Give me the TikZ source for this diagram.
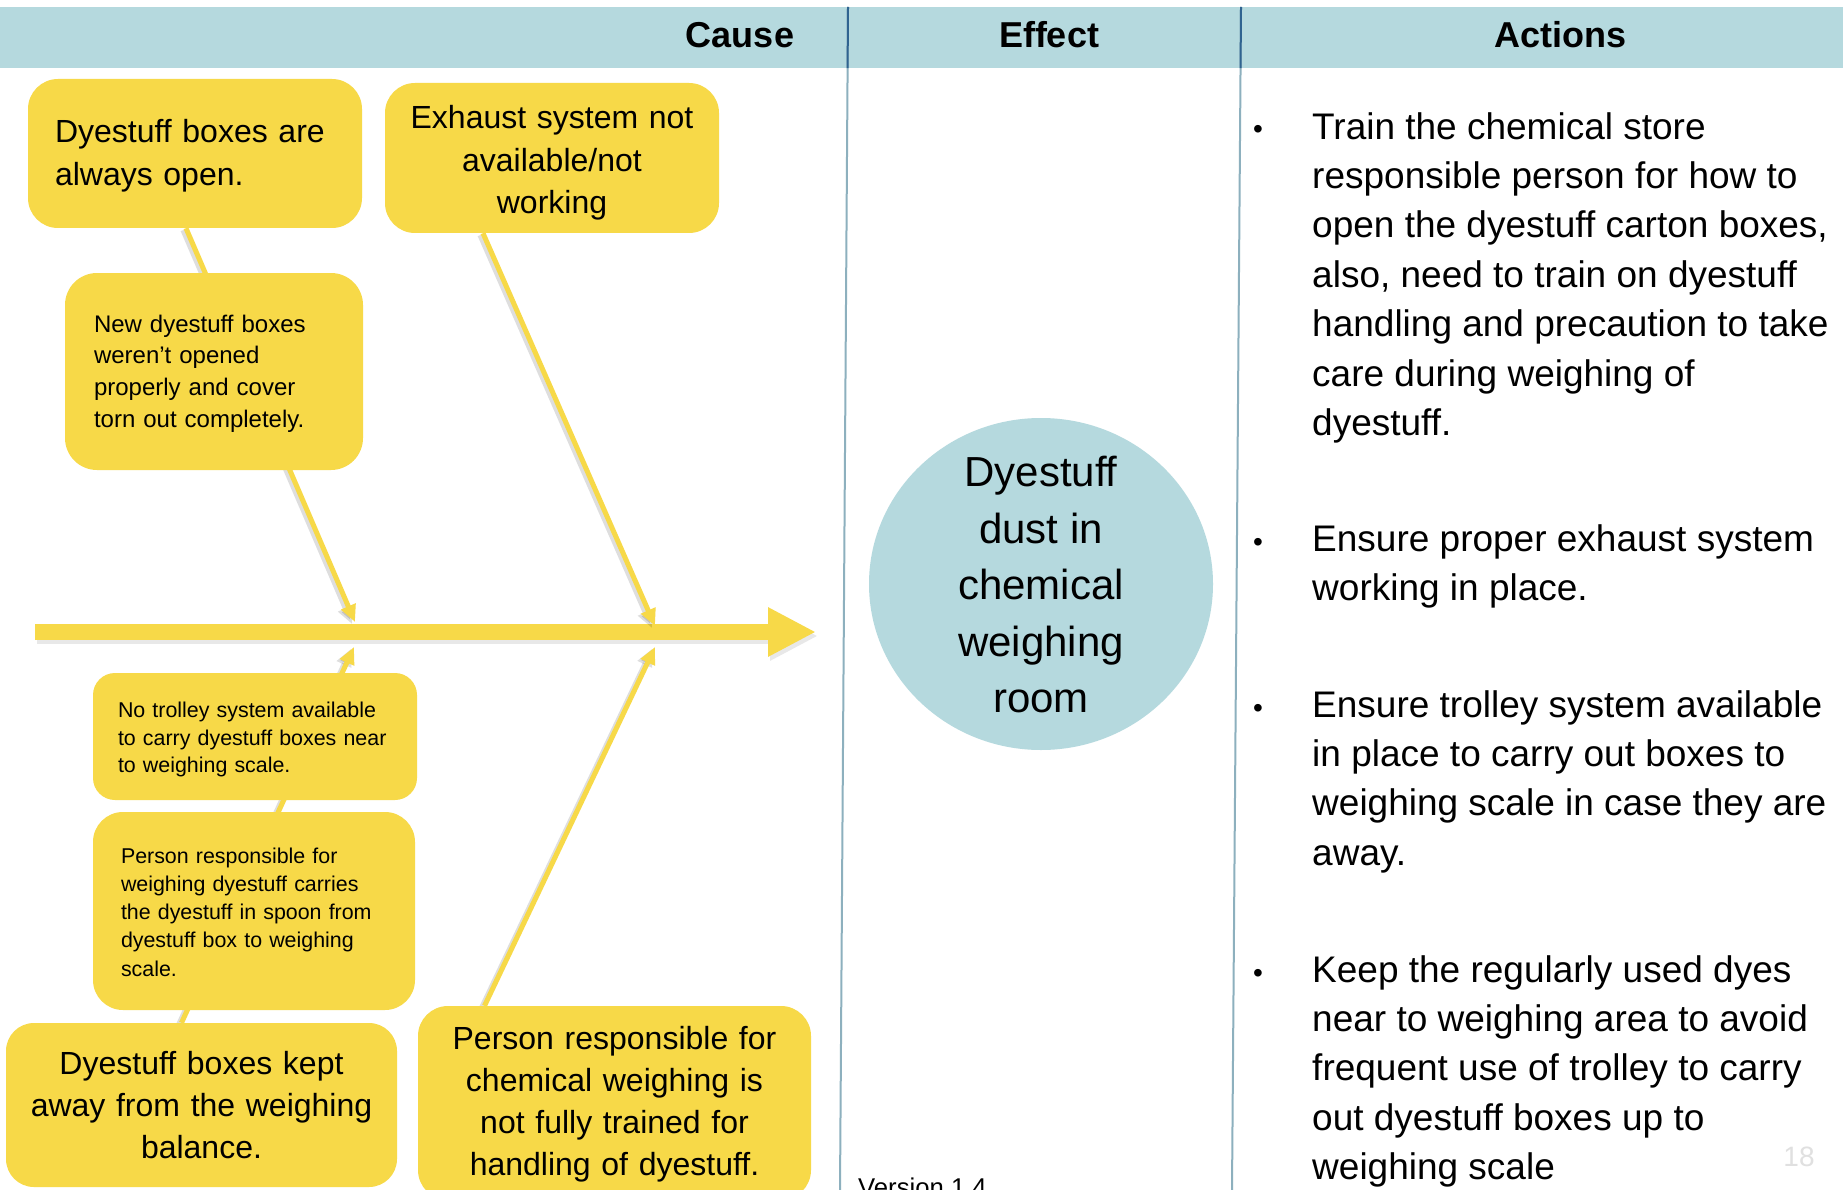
\documentclass[tikz,border=0pt]{standalone}
\usepackage{fontspec}
\setmainfont{Liberation Sans}
\usetikzlibrary{arrows.meta,shapes.geometric,calc}
\definecolor{causeyellow}{HTML}{F7D948}
\definecolor{headblue}{HTML}{B5D9DE}
\definecolor{ruledark}{HTML}{2F6390}
\definecolor{rulelight}{HTML}{8DB0BE}
\newcommand\setsz[2]{\fontsize{#1}{#2}\selectfont}
\pgfdeclarelayer{backdrop}
\pgfdeclarelayer{links}
\pgfsetlayers{backdrop,links,main}
\tikzset{
  causebox/.style={fill=causeyellow, inner sep=0pt, text=black},
  bigcause/.style={causebox, font=\setsz{32}{42.5}},
  smallcause/.style={causebox, align=left},
  % a tall invisible strut on the first line nudges the text block down
  lowertext/.style={execute at begin node={\rule{0pt}{#1}}},
  headtext/.style={font=\bfseries\setsz{36}{43}, inner sep=0pt},
  branch/.style={draw=causeyellow, line width=5pt, -{Triangle[length=17pt,width=15pt]}},
  branchshade/.style={draw=black, opacity=0.13, line width=5pt,
    -{Triangle[length=17pt,width=15pt]}, transform canvas={shift={(-3pt,-2pt)}}},
  spine/.style={draw=causeyellow, line width=16pt, -{Triangle[length=48pt,width=46pt]}},
  spineshade/.style={draw=black, opacity=0.09, line width=16pt,
    -{Triangle[length=48pt,width=46pt]}, transform canvas={shift={(2pt,-4pt)}}},
  effect/.style={ellipse, fill=headblue, inner sep=0pt},
  effecttext/.style={align=center, inner sep=0pt, font=\setsz{42}{56.5}},
  item/.style={font=\setsz{37}{49.4}, align=left, inner sep=0pt, anchor=base west},
  dot/.style={font=\setsz{28}{30}, inner sep=0pt, anchor=base},
}
\begin{document}
\begin{tikzpicture}[x=1pt,y=-1pt]
\clip (0,0) rectangle (1843,1190);

% header band and column rules
\begin{pgfonlayer}{backdrop}
  \fill[white] (0,0) rectangle (1843,1190);
  \fill[headblue] (0,7) rectangle (1843,68);
  \coordinate (r1top) at (848,7);
  \coordinate (r1bot) at (840,1190);
  \coordinate (r2top) at (1241,7);
  \coordinate (r2bot) at (1232,1190);
  \draw[rulelight, line width=2pt] (r1top) -- (r1bot);
  \draw[rulelight, line width=2pt] (r2top) -- (r2bot);
  \draw[ruledark, line width=2pt] (r1top) -- ($(r1top)!0.0516!(r1bot)$);
  \draw[ruledark, line width=2pt] (r2top) -- ($(r2top)!0.0516!(r2bot)$);
\end{pgfonlayer}

\node[headtext] (hcause)  at (740,35)  {Cause};
\node[headtext] (heffect) at (1049,35) {Effect};
\node[headtext] (hact)    at (1560,35) {Actions};

% cause boxes
\node[bigcause, rounded corners=30pt, minimum width=334pt, minimum height=149pt,
      text width=280pt, align=left, lowertext=27.5pt] (b1) at (195,153.5)
  {Dyestuff boxes are\\always open.};
\node[bigcause, rounded corners=30pt, minimum width=334pt, minimum height=150pt,
      text width=310pt, align=center, lowertext=33.5pt] (b2) at (552,158)
  {Exhaust system not\\available/not\\working};
\node[smallcause, rounded corners=32pt, minimum width=298pt, minimum height=197pt,
      text width=240pt, font=\setsz{24}{31.7}, lowertext=21.5pt] (b3) at (214,371.5)
  {New dyestuff boxes\\weren’t opened\\properly and cover\\torn out completely.};
\node[smallcause, rounded corners=22pt, minimum width=324pt, minimum height=127pt,
      text width=274pt, font=\setsz{21.4}{27.6}, lowertext=21.6pt] (b4) at (255,736.5)
  {No trolley system available\\to carry dyestuff boxes near\\to weighing scale.};
\node[smallcause, rounded corners=30pt, minimum width=322pt, minimum height=198pt,
      text width=266pt, font=\setsz{21.4}{28.2}, lowertext=17.6pt] (b5) at (254,911)
  {Person responsible for\\weighing dyestuff carries\\the dyestuff in spoon from\\dyestuff box to weighing\\scale.};
\node[bigcause, rounded corners=28pt, minimum width=391pt, minimum height=164pt,
      text width=370pt, align=center, font=\setsz{32}{42}] (b6) at (201.5,1105)
  {Dyestuff boxes kept\\away from the weighing\\balance.};
\node[bigcause, rounded corners=30pt, minimum width=393pt, minimum height=194pt,
      text width=370pt, align=center, font=\setsz{32}{42}, lowertext=25.4pt] (b7) at (614.5,1103)
  {Person responsible for\\chemical weighing is\\not fully trained for\\handling of dyestuff.};

% effect
\node[effect, minimum width=344pt, minimum height=332pt] (eff) at (1041,584) {};
\node[effecttext] (efftext) at ([yshift=-1pt]eff.center)
  {Dyestuff\\dust in\\chemical\\weighing\\room};

% spine and branches
\coordinate (spinetail) at (35,632);
\coordinate (spinehead) at (816,632);
\coordinate (t1) at (355,622);
\coordinate (t2) at (655,626);
\coordinate (t3) at (354,647);
\coordinate (t4) at (655,647);
\begin{pgfonlayer}{links}
  \draw[spineshade] (spinetail) -- (spinehead);
  \draw[spine] (spinetail) -- (spinehead);
  \draw[branchshade] ([xshift=-9pt]b1.south) -- (t1);
  \draw[branchshade] ([xshift=-69pt]b2.south) -- (t2);
  \draw[branchshade] ([xshift=-20pt]b6.north) -- (t3);
  \draw[branchshade] ([xshift=-130pt]b7.north) -- (t4);
  \draw[branch] ([xshift=-9pt]b1.south) -- (t1);
  \draw[branch] ([xshift=-69pt]b2.south) -- (t2);
  \draw[branch] ([xshift=-20pt]b6.north) -- (t3);
  \draw[branch] ([xshift=-130pt]b7.north) -- (t4);
\end{pgfonlayer}

% actions (each item is anchored at the baseline of its last line)
\node[dot] (p1) at (1258,139) {•};
\node[item] (a1) at (1312,435.4)
  {Train the chemical store\\responsible person for how to\\open the dyestuff carton boxes,\\also, need to train on dyestuff\\handling and precaution to take\\care during weighing of\\dyestuff.};
\node[dot] (p2) at (1258,551) {•};
\node[item] (a2) at (1312,600.4)
  {Ensure proper exhaust system\\working in place.};
\node[dot] (p3) at (1258,717) {•};
\node[item] (a3) at (1312,865.2)
  {Ensure trolley system available\\in place to carry out boxes to\\weighing scale in case they are\\away.};
\node[dot] (p4) at (1258,982) {•};
\node[item] (a4) at (1312,1179.6)
  {Keep the regularly used dyes\\near to weighing area to avoid\\frequent use of trolley to carry\\out dyestuff boxes up to\\weighing scale};

% footer
\node[font=\setsz{25.7}{30}, inner sep=0pt, anchor=base west] (ver) at (858,1196) {Version 1.4};
\node[font=\setsz{28}{30}, inner sep=0pt, text=black!12] (pg) at (1799,1157) {18};
\end{tikzpicture}
\end{document}
